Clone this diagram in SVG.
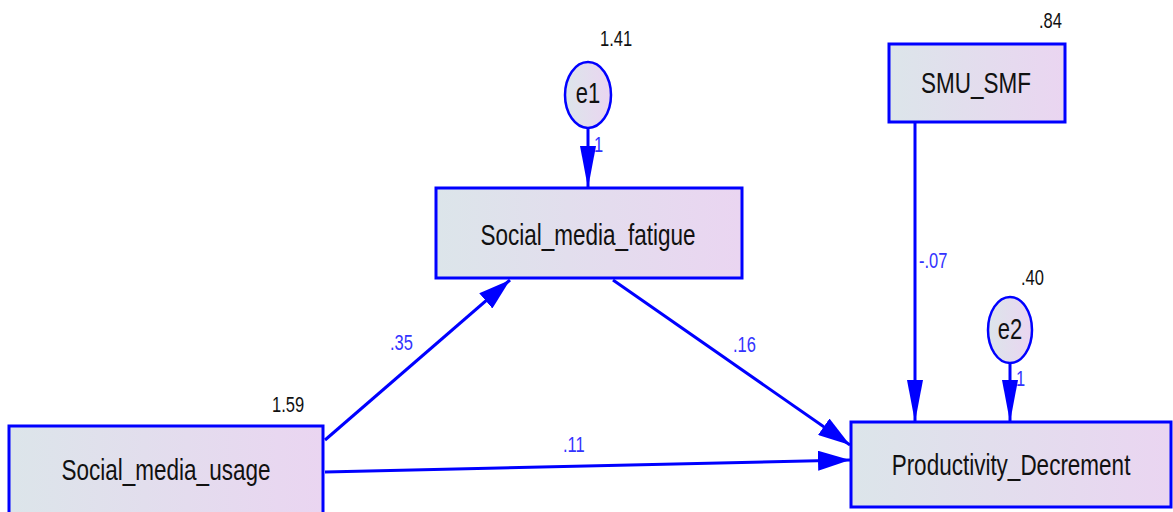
<svg xmlns="http://www.w3.org/2000/svg" width="1173" height="512" viewBox="0 0 1173 512">
<defs>
<linearGradient id="g" x1="0" y1="0" x2="1" y2="0">
<stop offset="0" stop-color="#dce5ea"/>
<stop offset="1" stop-color="#ead5f1"/>
</linearGradient>
<marker id="av" markerUnits="userSpaceOnUse" markerWidth="42" markerHeight="16" viewBox="0 0 42 16" refX="42" refY="8" orient="auto">
<path d="M0,0 L42,8 L0,16 Z" fill="#0000ff"/>
</marker>
<marker id="ad" markerUnits="userSpaceOnUse" markerWidth="32" markerHeight="20" viewBox="0 0 32 20" refX="32" refY="10" orient="auto">
<path d="M0,0 L32,10 L0,20 Z" fill="#0000ff"/>
</marker>
<style>
.box{fill:url(#g);stroke:#0000ff;stroke-width:3}
.ell{fill:url(#g);stroke:#0000ff;stroke-width:2.5}
.lbl{font-family:"Liberation Sans",Arial,sans-serif;font-size:22.5px;fill:#111;text-anchor:middle}
.var{font-family:"Liberation Sans",Arial,sans-serif;font-size:16.5px;fill:#111}
.coef{font-family:"Liberation Sans",Arial,sans-serif;font-size:16.5px;fill:#3333ff}
.ln{stroke:#0000ff;stroke-width:3;fill:none}
</style>
</defs>
<g id="connectors">
<line class="ln" x1="588" y1="128" x2="588" y2="188" marker-end="url(#av)"/>
<line class="ln" x1="1010" y1="363" x2="1010" y2="422" marker-end="url(#av)"/>
<line class="ln" x1="915" y1="122" x2="915" y2="422" marker-end="url(#av)"/>
<line class="ln" x1="325" y1="440" x2="510" y2="280" marker-end="url(#ad)"/>
<line class="ln" x1="613" y1="280" x2="850" y2="445" marker-end="url(#ad)"/>
<line class="ln" x1="325" y1="472" x2="850" y2="460" marker-end="url(#ad)"/>
<text class="coef" transform="translate(594 152) scale(1 1.35)">1</text>
<text class="coef" transform="translate(1016 386) scale(1 1.35)">1</text>
<text class="coef" transform="translate(919 268) scale(1 1.35)">-.07</text>
<text class="coef" transform="translate(390 350) scale(1 1.35)">.35</text>
<text class="coef" transform="translate(733 352) scale(1 1.35)">.16</text>
<text class="coef" transform="translate(563 452) scale(1 1.35)">.11</text>
</g>
<g id="e1">
<ellipse class="ell" cx="588" cy="95" rx="23" ry="33"/>
<text class="lbl" transform="translate(588 103) scale(1 1.35)" style="font-size:22px">e1</text>
<text class="var" transform="translate(600 46) scale(1 1.35)">1.41</text>
</g>
<g id="e2">
<ellipse class="ell" cx="1010" cy="330" rx="22" ry="33"/>
<text class="lbl" transform="translate(1010 339) scale(1 1.35)" style="font-size:22px">e2</text>
<text class="var" transform="translate(1021 285) scale(1 1.35)">.40</text>
</g>
<g id="Social_media_fatigue">
<rect class="box" x="436" y="188" width="306" height="90"/>
<text class="lbl" transform="translate(588 245) scale(1 1.35)">Social_media_fatigue</text>
</g>
<g id="Social_media_usage">
<rect class="box" x="9" y="426" width="314" height="92"/>
<text class="lbl" transform="translate(166 480) scale(1 1.35)">Social_media_usage</text>
<text class="var" transform="translate(272 412) scale(1 1.35)">1.59</text>
</g>
<g id="SMU_SMF">
<rect class="box" x="889" y="44" width="176" height="78"/>
<text class="lbl" transform="translate(976 93) scale(1 1.35)">SMU_SMF</text>
<text class="var" transform="translate(1039 28) scale(1 1.35)">.84</text>
</g>
<g id="Productivity_Decrement">
<rect class="box" x="851" y="422" width="320" height="85"/>
<text class="lbl" transform="translate(1011 475) scale(1 1.35)">Productivity_Decrement</text>
</g>
</svg>
